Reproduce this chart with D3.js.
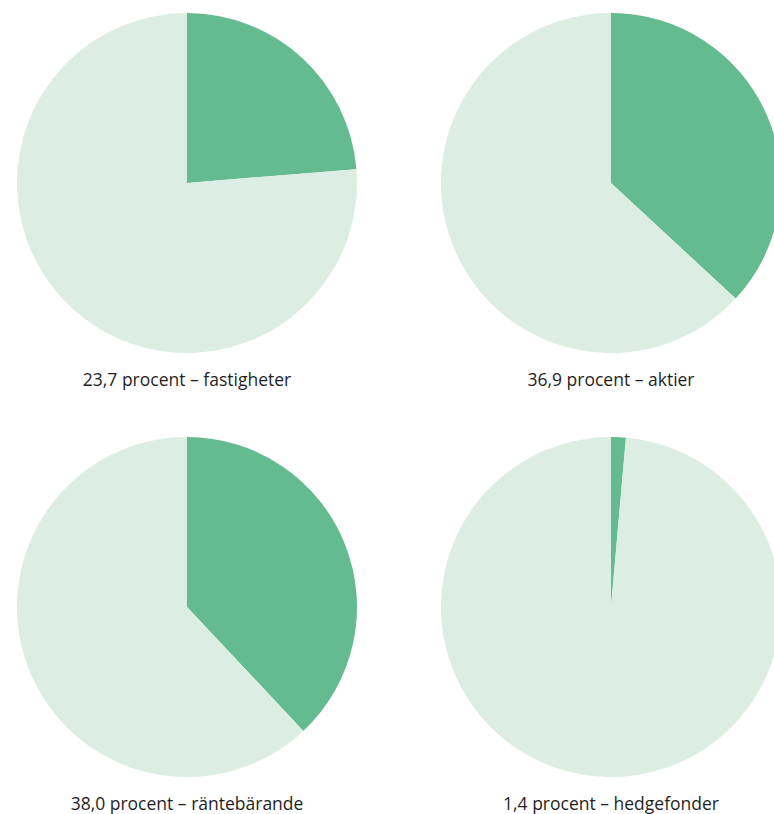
<!DOCTYPE html>
<html>
<head>
<meta charset="utf-8">
<script src="https://cdn.jsdelivr.net/npm/d3@7"></script>
<style>
  body { margin: 0; background: #fff; overflow: hidden; }
  .label { font-family: "Open Sans", sans-serif; font-size: 17.5px; fill: #1f1f1f; }
</style>
</head>
<body>
<svg id="chart"></svg>
<script>
// andel per tillgångsslag (procent)
const categories = ['fastigheter', 'aktier', 'räntebärande', 'hedgefonder'];
const shares = [23.7, 36.9, 38.0, 1.4];
const shareLabels = ['23,7', '36,9', '38,0', '1,4'];

const width = 774, height = 814;
const radius = 170;
const colX = [187, 611], rowY = [183, 607];

const svg = d3.select('#chart')
    .attr('width', width)
    .attr('height', height);

const pie = d3.pie().sort(null).value(d => d);
const arc = d3.arc().innerRadius(0).outerRadius(radius);
const color = d3.scaleOrdinal().domain([0, 1]).range(['#63bb8f', '#dcede3']);

categories.forEach((cat, i) => {
  const cx = colX[i % 2], cy = rowY[Math.floor(i / 2)];
  const g = svg.append('g').attr('transform', `translate(${cx},${cy})`);

  g.selectAll('path')
    .data(pie([shares[i], 100 - shares[i]]))
    .join('path')
    .attr('d', arc)
    .attr('fill', (d, j) => color(j));

  g.append('text')
    .attr('class', 'label')
    .attr('x', 0)
    .attr('y', 203)
    .attr('text-anchor', 'middle')
    .text(`${shareLabels[i]} procent – ${cat}`);
});
</script>
</body>
</html>
